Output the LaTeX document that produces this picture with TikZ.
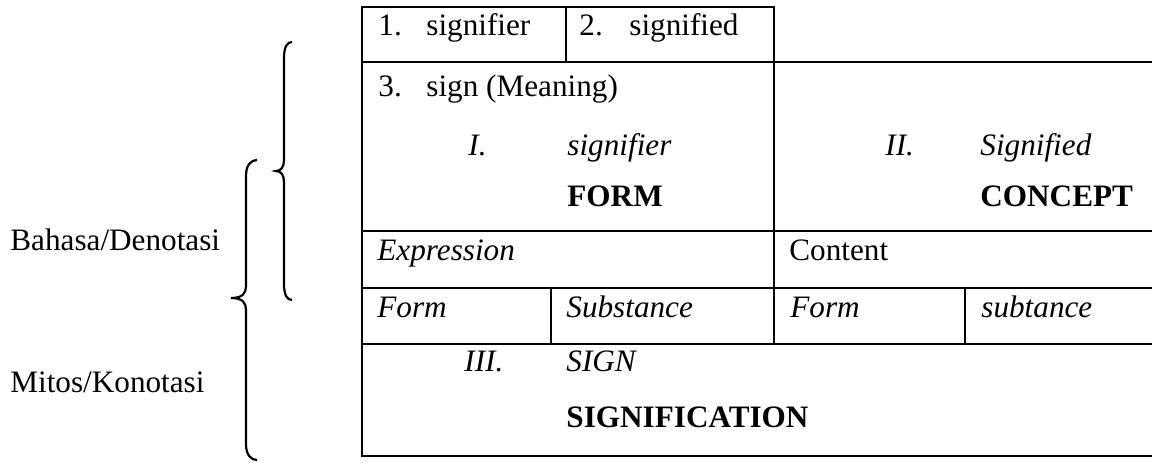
\documentclass[tikz,border=0pt]{standalone}
\usepackage{fontspec}
\setmainfont{Liberation Serif}

\tikzset{
    txt/.style   = {anchor=base west, inner sep=0pt, font=\fontsize{15.6}{18}\selectfont},
    rule/.style  = {line width=1.25pt, line cap=rect},
    curly/.style = {line width=1.1pt}
}

\begin{document}
\begin{tikzpicture}[x=0.5pt, y=-0.5pt]
    \useasboundingbox (0,0) rectangle (1152,462);
    \draw[rule] (362,7) -- (774,7);
    \foreach \y in {62,231,288,344,456}
        \draw[rule] (362,\y) -- (1152,\y);
    \draw[rule] (362,7) -- (362,456);
    \draw[rule] (566,7) -- (566,62);
    \draw[rule] (774,7) -- (774,344);
    \draw[rule] (551,288) -- (551,344);
    \draw[rule] (965,288) -- (965,344);
    \node[txt] (sA)   at (378,35)  {\makebox[24pt][l]{1.}signifier};
    \node[txt] (sB)   at (579,35)  {\makebox[25pt][l]{2.}signified};
    \node[txt] (sC)   at (378,96)  {\makebox[24pt][l]{3.}sign (Meaning)};
    \node[txt] (nI)   at (468,155) {\itshape I.};
    \node[txt] (sr)   at (567,155) {\itshape signifier};
    \node[txt] (fm)   at (567,206) {\bfseries FORM};
    \node[txt] (nII)  at (885,155) {\itshape II.};
    \node[txt] (sd)   at (980,155) {\itshape Signified};
    \node[txt] (cp)   at (980,206) {\bfseries CONCEPT};
    \node[txt] (ex)   at (377,260) {\itshape Expression};
    \node[txt] (ct)   at (789,260) {Content};
    \node[txt] (fA)   at (377,317) {\itshape Form};
    \node[txt] (sbA)  at (566,317) {\itshape Substance};
    \node[txt] (fB)   at (790,317) {\itshape Form};
    \node[txt] (sbB)  at (981,317) {\itshape subtance};
    \node[txt] (nIII) at (464,371) {\itshape III.};
    \node[txt] (sg)   at (566,371) {\itshape SIGN};
    \node[txt] (sf)   at (566,427) {\bfseries SIGNIFICATION};
    \node[txt] (den)  at (10,250)  {Bahasa/Denotasi};
    \node[txt] (kon)  at (10,392)  {Mitos/Konotasi};
    \draw[curly] (292,42) .. controls (287,42) and (284,47) .. (284,58)
        -- (284,160) .. controls (284,167) and (281,171) .. (276,171)
        .. controls (281,171) and (284,175) .. (284,182)
        -- (284,284) .. controls (284,295) and (287,300) .. (292,300);
    \draw[curly] (257,160) .. controls (251,160) and (246,165) .. (246,176)
        -- (246,286) .. controls (246,293) and (243,298) .. (231,298)
        .. controls (243,298) and (246,303) .. (246,310)
        -- (246,444) .. controls (246,455) and (251,460) .. (257,460);
\end{tikzpicture}
\end{document}
